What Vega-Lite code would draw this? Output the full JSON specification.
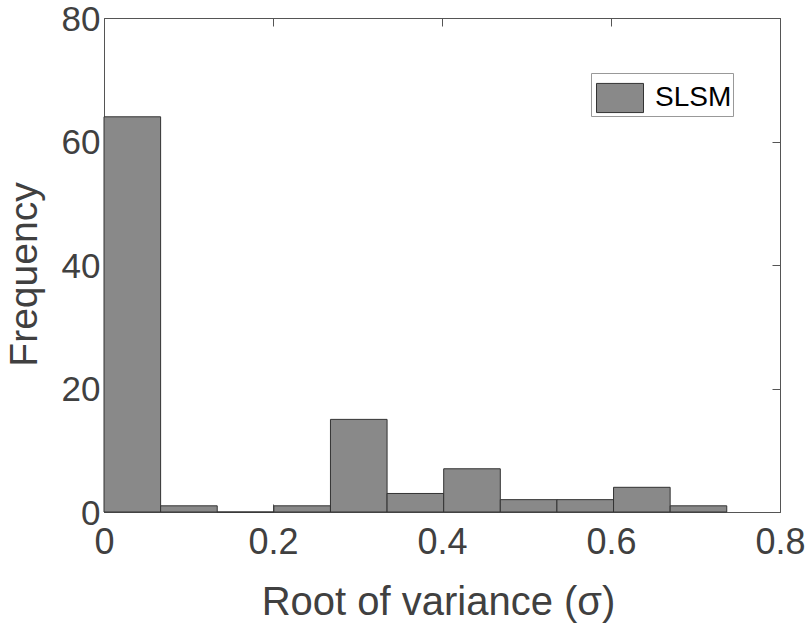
{
  "$schema": "https://vega.github.io/schema/vega-lite/v6.json",
  "width": 676,
  "height": 494,
  "autosize": {"type": "none"},
  "padding": {"left": 104, "top": 18, "right": 29, "bottom": 117},
  "background": "white",
  "config": {"view": {"stroke": null}, "font": "Liberation Sans"},
  "data": {
    "values": [
      {"bin_start": 0.0, "bin_end": 0.067, "count": 64},
      {"bin_start": 0.067, "bin_end": 0.134, "count": 1},
      {"bin_start": 0.134, "bin_end": 0.201, "count": 0},
      {"bin_start": 0.201, "bin_end": 0.268, "count": 1},
      {"bin_start": 0.268, "bin_end": 0.335, "count": 15},
      {"bin_start": 0.335, "bin_end": 0.402, "count": 3},
      {"bin_start": 0.402, "bin_end": 0.469, "count": 7},
      {"bin_start": 0.469, "bin_end": 0.536, "count": 2},
      {"bin_start": 0.536, "bin_end": 0.603, "count": 2},
      {"bin_start": 0.603, "bin_end": 0.670, "count": 4},
      {"bin_start": 0.670, "bin_end": 0.737, "count": 1}
    ]
  },
  "layer": [
    {
      "mark": {"type": "rect", "stroke": "#333333", "strokeWidth": 1},
      "encoding": {
        "x": {
          "field": "bin_start", "type": "quantitative",
          "scale": {"domain": [0, 0.8], "nice": false, "zero": false},
          "axis": {
            "orient": "bottom", "values": [0, 0.2, 0.4, 0.6, 0.8], "format": "~g",
            "grid": false, "domainColor": "#555555", "tickColor": "#555555",
            "tickSize": -8, "labelPadding": 21, "labelFontSize": 36, "labelColor": "#404040",
            "labelFlush": false, "labelOverlap": false, "labelBound": false,
            "title": "Root of variance (σ)", "titleFontSize": 40, "titleFontWeight": "normal",
            "titleColor": "#404040", "titleX": 334, "titleY": 102, "titleBaseline": "alphabetic"
          }
        },
        "x2": {"field": "bin_end"},
        "y": {
          "field": "count", "type": "quantitative",
          "scale": {"domain": [0, 80], "nice": false},
          "axis": {
            "orient": "left", "values": [0, 20, 40, 60, 80],
            "grid": false, "domainColor": "#555555", "tickColor": "#555555",
            "tickSize": -8, "labelPadding": 12, "labelFontSize": 35, "labelColor": "#404040",
            "labelOffset": 12, "labelBaseline": "alphabetic",
            "labelFlush": false, "labelOverlap": false, "labelBound": false,
            "title": "Frequency", "titleFontSize": 39, "titleFontWeight": "normal",
            "titleColor": "#404040", "titleX": -68, "titleY": 256, "titleBaseline": "alphabetic",
            "titleAngle": -90
          }
        },
        "y2": {"datum": 0},
        "color": {
          "datum": "SLSM",
          "scale": {"range": ["#898989"]},
          "legend": {
            "orient": "none", "legendX": 487, "legendY": 55, "title": null,
            "strokeColor": "#999999", "fillColor": "white", "padding": 1,
            "labelFontSize": 28, "labelColor": "#000000", "labelOffset": 11, "symbolOffset": 4,
            "symbolType": "M-1,-0.62L1,-0.62L1,0.62L-1,0.62Z", "symbolSize": 2209,
            "symbolStrokeColor": "#333333", "symbolStrokeWidth": 1, "symbolOpacity": 1
          }
        }
      }
    },
    {
      "mark": {"type": "point", "opacity": 0},
      "encoding": {
        "x": {
          "field": "bin_start", "type": "quantitative",
          "axis": {
            "orient": "top", "values": [0, 0.2, 0.4, 0.6, 0.8], "labels": false, "title": null,
            "grid": false, "domainColor": "#555555", "tickColor": "#555555", "tickSize": -8
          }
        },
        "y": {
          "field": "count", "type": "quantitative",
          "axis": {
            "orient": "right", "values": [0, 20, 40, 60, 80], "labels": false, "title": null,
            "grid": false, "domainColor": "#555555", "tickColor": "#555555", "tickSize": -8
          }
        }
      }
    }
  ],
  "resolve": {"axis": {"x": "independent", "y": "independent"}}
}
